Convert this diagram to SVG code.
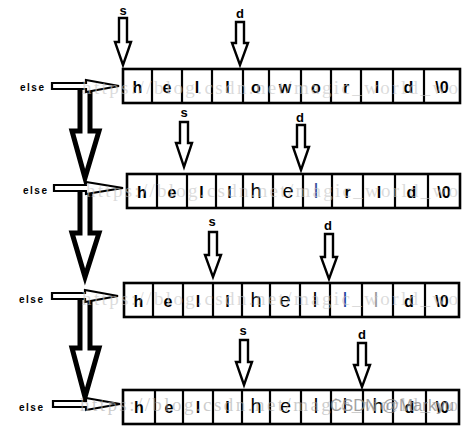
<svg xmlns="http://www.w3.org/2000/svg" width="470" height="429" viewBox="0 0 470 429">
<style>
.bg{fill:#fff}
.box{fill:#fff;stroke:#000;stroke-width:2.6}
.div{fill:none;stroke:#000;stroke-width:2.2}
.b{font-family:"Liberation Sans",Arial,sans-serif;font-weight:bold;font-size:16px;fill:#000;text-anchor:middle}
.r{font-family:"Liberation Sans",Arial,sans-serif;font-size:20px;fill:#000;text-anchor:middle}
.lbl{font-family:"Liberation Sans",Arial,sans-serif;font-weight:bold;font-size:13px;fill:#000;text-anchor:middle}
.else{font-family:"Liberation Sans",Arial,sans-serif;font-weight:bold;font-size:10px;letter-spacing:1.5px;fill:#000}
.ptr{fill:#fff;stroke:#000;stroke-width:2.4;stroke-linejoin:miter}
.big{fill:#fff;stroke:#000;stroke-width:5;stroke-linejoin:miter}
.elsearr{fill:#fff;stroke:#000;stroke-width:2.2}
.wm{font-family:"Liberation Serif","Times New Roman",serif;font-size:19px;fill:#c4c4c4;fill-opacity:0.6}
.wm2{font-family:"Liberation Sans",Arial,sans-serif;font-size:16px;fill:#8a8a8a;fill-opacity:0.8}
</style>
<rect class="bg" x="0" y="0" width="470" height="429"/>

<g id="connectors">
  <path class="big" d="M80,88 V131 H72 L85,178 L99,131 H90 V88"/>
  <path class="big" d="M80,190 V233 H72 L85,277 L99,233 H90 V190"/>
  <path class="big" d="M80,298 V348 H72 L85,397 L99,348 H90 V298"/>
  <path class="elsearr" d="M52,83 H86 V80 L119,86 L86,92 V89 H52 Z"/>
  <path class="elsearr" d="M54,185 H86 V182 L123,188 L86,194 V191 H54 Z"/>
  <path class="elsearr" d="M52,293 H85 V290 L118,296 L85,302 V299 H52 Z"/>
  <path class="elsearr" d="M53,401 H86 V398 L120,404 L86,410 V407 H53 Z"/>
</g>

<g id="else-labels">
  <text class="else" x="20" y="91">else</text>
  <text class="else" x="23" y="194">else</text>
  <text class="else" x="19" y="303">else</text>
  <text class="else" x="19" y="411">else</text>
</g>

<g id="row1">
  <rect class="box" x="123" y="69" width="337" height="34"/>
  <path class="div" d="M152,69V103M182,69V103M212,69V103M243,69V103M269,69V103M301,69V103M331,69V103M361,69V103M393,69V103M424,69V103"/>
  <text class="b" x="137.5" y="93">h</text>
  <text class="b" x="167" y="93">e</text>
  <text class="b" x="197" y="93">l</text>
  <text class="b" x="227.5" y="93">l</text>
  <text class="b" x="256" y="93">o</text>
  <text class="b" x="285" y="93">w</text>
  <text class="b" x="316" y="93">o</text>
  <text class="b" x="346" y="93">r</text>
  <text class="b" x="377" y="93">l</text>
  <text class="b" x="408.5" y="93">d</text>
  <text class="b" x="442" y="93">\0</text>
</g>

<g id="row2">
  <rect class="box" x="127" y="174" width="333" height="34"/>
  <path class="div" d="M157,174V208M187,174V208M216,174V208M243,174V208M273,174V208M303,174V208M332,174V208M363,174V208M395,174V208M428,174V208"/>
  <text class="b" x="142" y="198">h</text>
  <text class="b" x="172" y="198">e</text>
  <text class="b" x="201.5" y="198">l</text>
  <text class="b" x="229.5" y="198">l</text>
  <text class="r" x="256" y="198">h</text>
  <text class="r" x="288" y="198">e</text>
  <text class="r" x="316" y="198" style="fill:#3a4f9a">l</text>
  <text class="b" x="347.5" y="198">r</text>
  <text class="b" x="379" y="198">l</text>
  <text class="b" x="411.5" y="198">d</text>
  <text class="b" x="444" y="198">\0</text>
</g>

<g id="row3">
  <rect class="box" x="124" y="283" width="335" height="34"/>
  <path class="div" d="M153,283V317M183,283V317M213,283V317M242,283V317M270,283V317M300,283V317M330,283V317M362,283V317M393,283V317M425,283V317"/>
  <text class="b" x="138.5" y="307">h</text>
  <text class="b" x="168" y="307">e</text>
  <text class="b" x="198" y="307">l</text>
  <text class="b" x="227.5" y="307">l</text>
  <text class="r" x="256" y="307">h</text>
  <text class="r" x="285" y="307">e</text>
  <text class="r" x="315" y="307">l</text>
  <text class="r" x="345" y="307" style="fill:#1f3f9f">l</text>
  <text class="r" x="376" y="307" style="fill:#9a9a9a">l</text>
  <text class="b" x="409" y="307">d</text>
  <text class="b" x="442" y="307">\0</text>
</g>

<g id="row4">
  <rect class="box" x="123" y="390" width="336" height="34"/>
  <path class="div" d="M155,390V424M183,390V424M213,390V424M242,390V424M270,390V424M301,390V424M331,390V424M363,390V424M393,390V424M426,390V424"/>
  <text class="b" x="139" y="413">h</text>
  <text class="b" x="169" y="413">e</text>
  <text class="b" x="198" y="413">l</text>
  <text class="b" x="227.5" y="413">l</text>
  <text class="r" x="256" y="413">h</text>
  <text class="r" x="285.5" y="413">e</text>
  <text class="r" x="316" y="413">l</text>
  <text class="r" x="345" y="413">l</text>
  <text class="r" x="378" y="413">h</text>
  <text class="b" x="409.5" y="413">d</text>
  <text class="b" x="442.5" y="413">\0</text>
</g>

<g id="pointers">
  <text class="lbl" x="123" y="15">s</text>
  <path class="ptr" d="M119,18 V42 H115 L123,65 L131,42 H127 V18 Z"/>
  <text class="lbl" x="240" y="18">d</text>
  <path class="ptr" d="M236,22 V43 H232 L240,65 L248,43 H244 V22 Z"/>

  <text class="lbl" x="184" y="117">s</text>
  <path class="ptr" d="M180,122 V143 H176 L184,167 L192,143 H188 V122 Z"/>
  <text class="lbl" x="300" y="122">d</text>
  <path class="ptr" d="M297,125 V147 H293 L301,170 L309,147 H305 V125 Z"/>

  <text class="lbl" x="212" y="226">s</text>
  <path class="ptr" d="M209,232 V255 H205 L213,277 L221,255 H217 V232 Z"/>
  <text class="lbl" x="328" y="230">d</text>
  <path class="ptr" d="M325,234 V257 H321 L329,279 L337,257 H333 V234 Z"/>

  <text class="lbl" x="243" y="335">s</text>
  <path class="ptr" d="M240,340 V362 H236 L244,385 L252,362 H248 V340 Z"/>
  <text class="lbl" x="362" y="339">d</text>
  <path class="ptr" d="M358,343 V365 H354 L362,387 L370,365 H366 V343 Z"/>
</g>

<g id="watermarks">
  <text class="wm" x="82" y="94" textLength="376" lengthAdjust="spacing">https://blog.csdn.net/magic_world_wo</text>
  <text class="wm" x="86" y="197" textLength="372" lengthAdjust="spacing">https://blog.csdn.net/magic_world_wo</text>
  <text class="wm" x="82" y="305" textLength="376" lengthAdjust="spacing">https://blog.csdn.net/magic_world_wo</text>
  <text class="wm" x="80" y="411" textLength="378" lengthAdjust="spacing" style="fill:#aaa">https://blog.csdn.net/magic_world_wo</text>
  <text class="wm2" x="330" y="411" textLength="124" lengthAdjust="spacingAndGlyphs">CSDN @Markyu</text>
</g>
</svg>
